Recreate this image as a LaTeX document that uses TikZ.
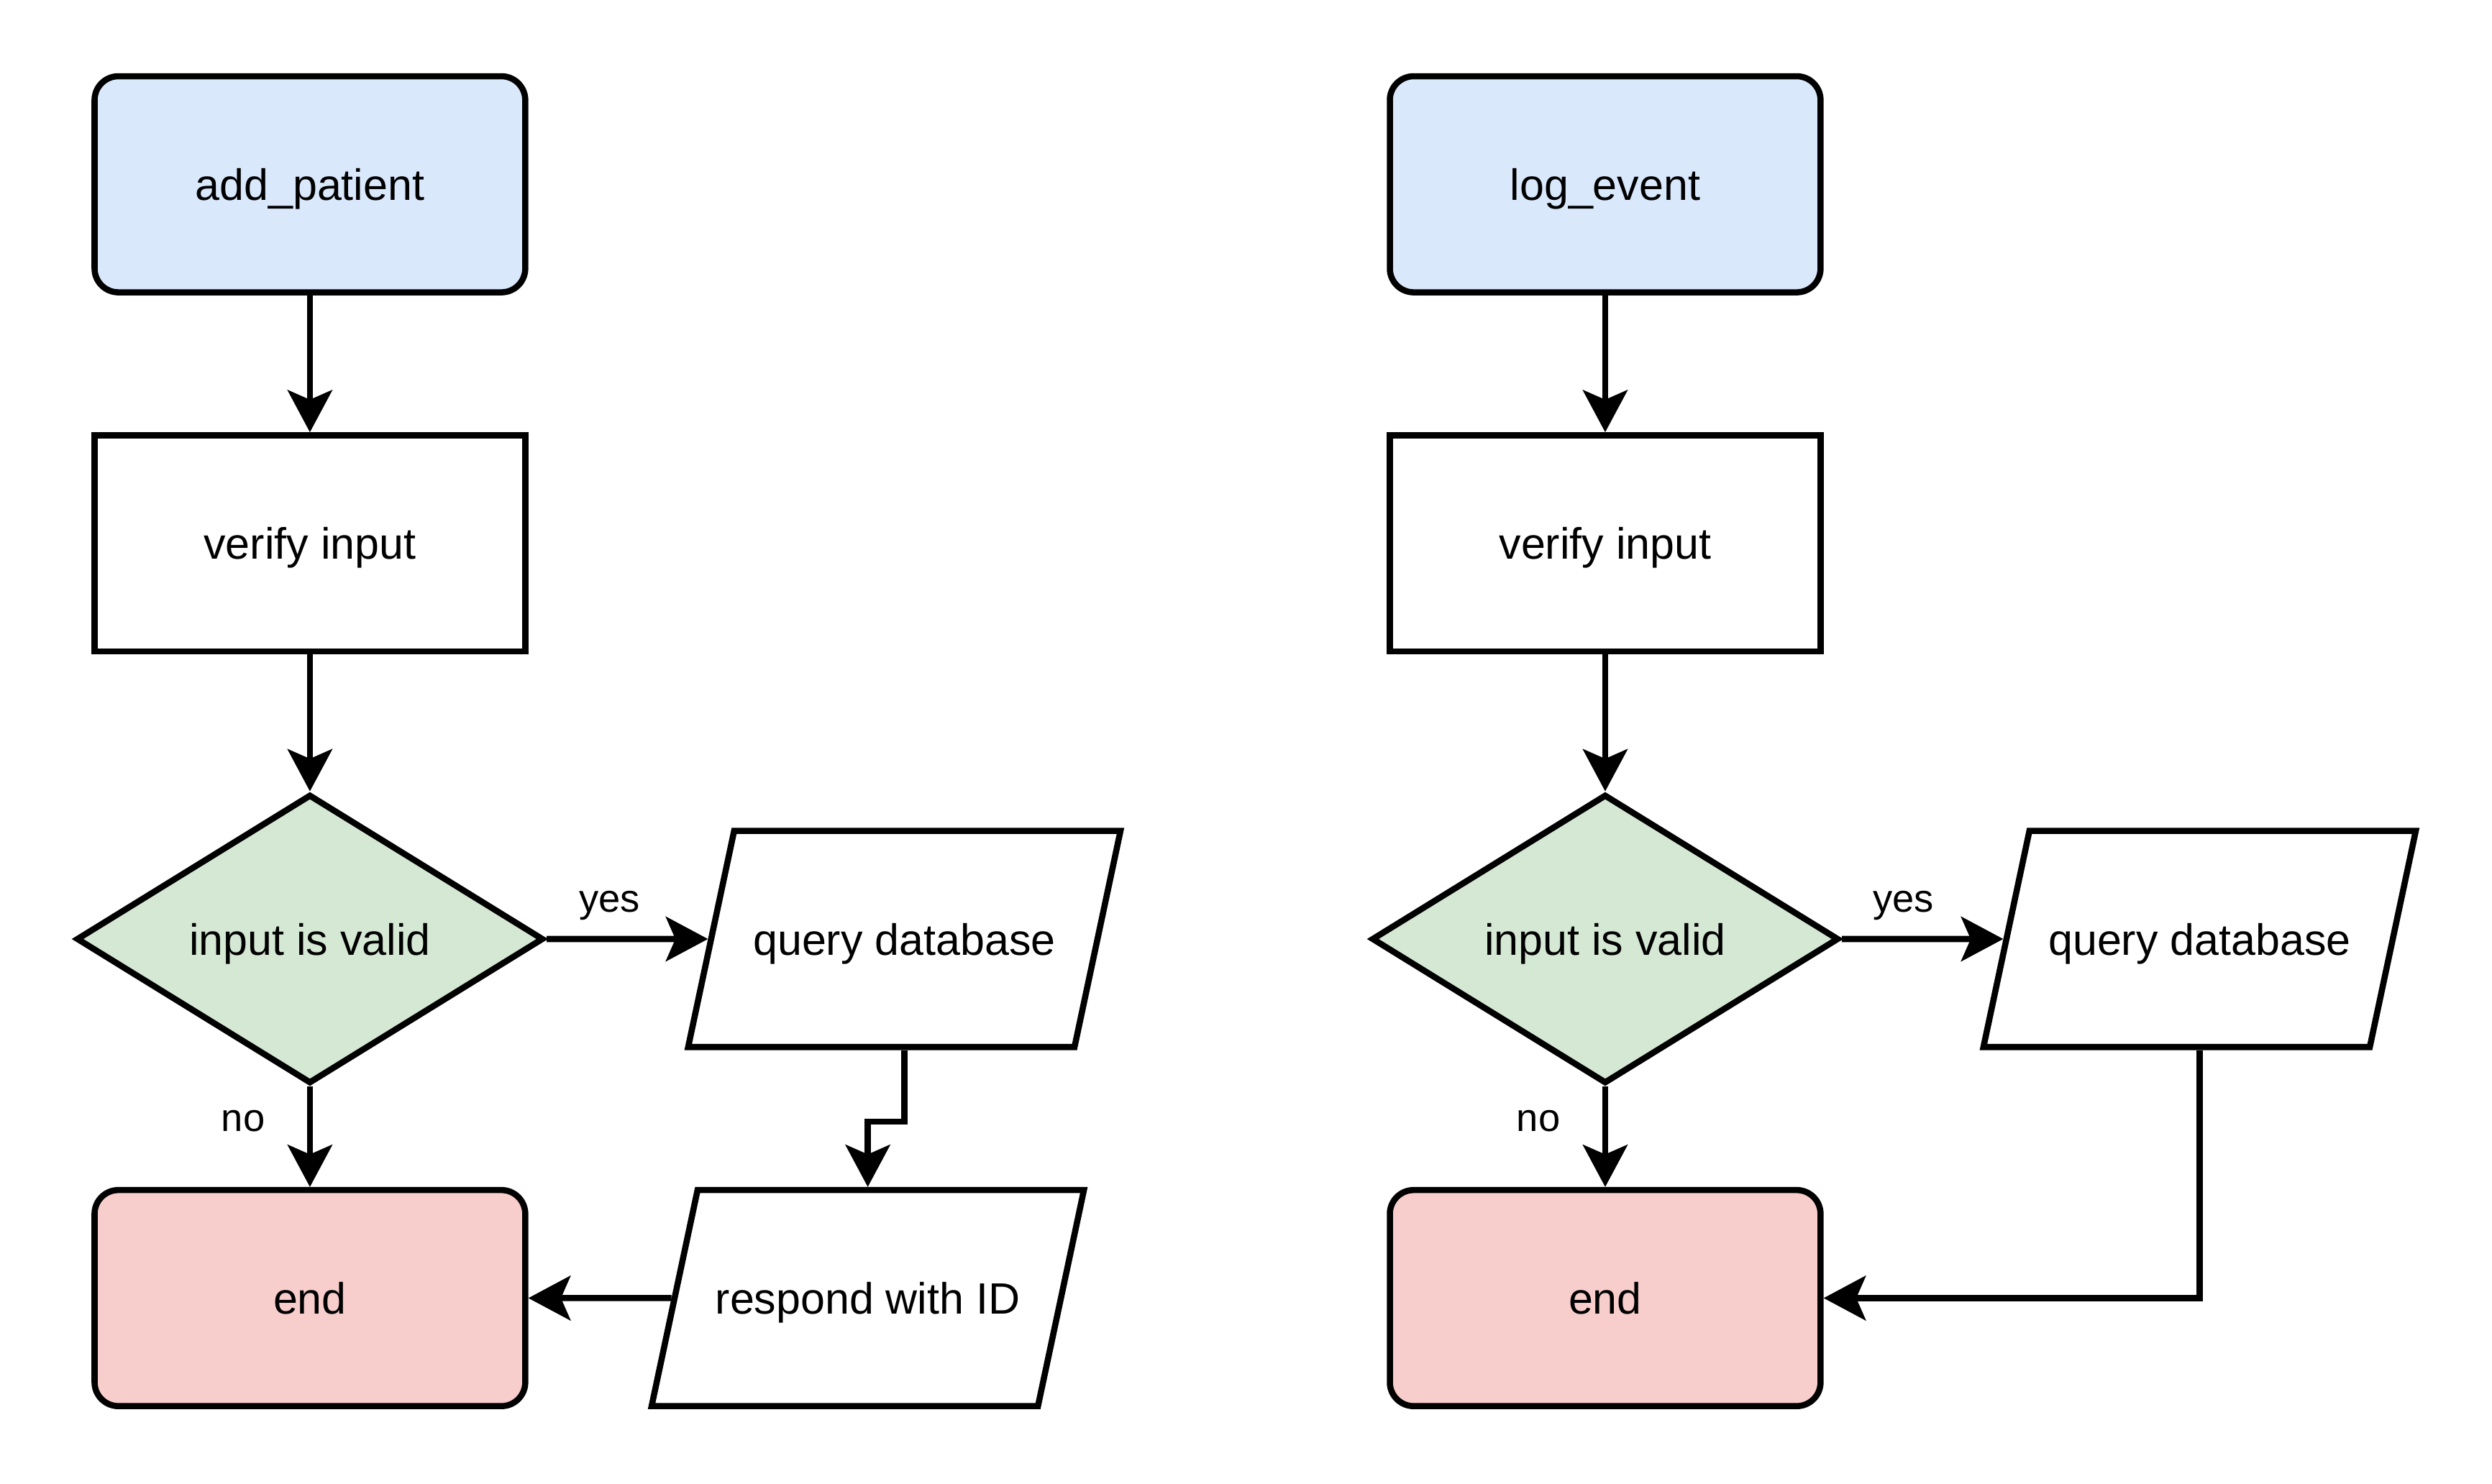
\documentclass[tikz,border=0pt]{standalone}
\usepackage{fontspec}
\setmainfont{Liberation Sans}
\usetikzlibrary{shapes.geometric,arrows.meta}
\definecolor{startblue}{HTML}{DAE8FC}
\definecolor{validgreen}{HTML}{D5E8D4}
\definecolor{endred}{HTML}{F8CECC}
\tikzset{
  base/.style={draw,line width=2.2pt,minimum width=5.42cm,minimum height=2.72cm,inner sep=0pt,
    text height=0.55cm,text depth=0.15cm,font=\fontsize{15.7}{18}\selectfont},
  startbox/.style={base,rounded corners=3mm,fill=startblue},
  procbox/.style={base},
  endbox/.style={base,rounded corners=3mm,fill=endred},
  decision/.style={base,diamond,aspect=1.6,minimum width=5.88cm,minimum height=3.64cm,fill=validgreen},
  iobox/.style={base,trapezium,trapezium left angle=78,trapezium right angle=102,trapezium stretches body,
    inner xsep=0pt,inner ysep=1.01cm,minimum width=5.44cm},
  flow/.style={line width=2.2pt,-{Stealth[length=5.3mm,width=5.6mm,inset=1.2mm]}},
  edgelabel/.style={font=\fontsize{14}{16}\selectfont}
}
\begin{document}
\begin{tikzpicture}
\useasboundingbox (0,0) rectangle (31.36,18.68);
% add_patient
\node[startbox] (addpat) at (3.90,16.36) {add\_patient};
\node[procbox]  (verA)   at (3.90,11.84) {verify input};
\node[decision] (valA)   at (3.90, 6.86) {input is valid};
\node[endbox]   (endA)   at (3.90, 2.34) {end};
\node[iobox]    (queryA) at (11.38,6.86) {query database};
\node[iobox]    (respA)  at (10.92,2.34) {respond with ID};
\draw[flow] (addpat) -- (verA);
\draw[flow] (verA) -- (valA);
\draw[flow] (valA.east) -- node[edgelabel,pos=0.39,yshift=4.2mm] {yes} (queryA.west);
\draw[flow] (valA.south) -- node[edgelabel,pos=0.34,xshift=-8.4mm] {no} (endA.north);
\draw[flow] (queryA.south) -- ++(0,-0.9) -| (respA.north);
\draw[flow] (respA.west) -- (endA.east);
% log_event
\node[startbox] (logev)  at (20.20,16.36) {log\_event};
\node[procbox]  (verB)   at (20.20,11.84) {verify input};
\node[decision] (valB)   at (20.20, 6.86) {input is valid};
\node[endbox]   (endB)   at (20.20, 2.34) {end};
\node[iobox]    (queryB) at (27.68,6.86) {query database};
\draw[flow] (logev) -- (verB);
\draw[flow] (verB) -- (valB);
\draw[flow] (valB.east) -- node[edgelabel,pos=0.38,yshift=4.2mm] {yes} (queryB.west);
\draw[flow] (valB.south) -- node[edgelabel,pos=0.34,xshift=-8.4mm] {no} (endB.north);
\draw[flow] (queryB.south) |- (endB.east);
\end{tikzpicture}
\end{document}
